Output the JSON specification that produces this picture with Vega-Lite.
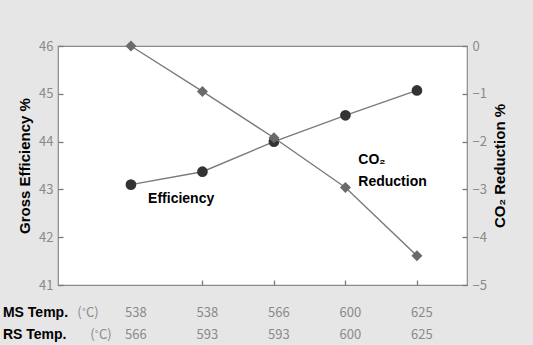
{
  "$schema": "https://vega.github.io/schema/vega-lite/v6.json",
  "width": 409,
  "height": 239,
  "autosize": {"type": "none"},
  "padding": {"left": 58, "top": 46, "right": 66, "bottom": 60},
  "background": "#e6e6e6",
  "config": {
    "view": {"fill": "white", "stroke": "#8a8a8a", "strokeWidth": 1.2},
    "axis": {
      "domain": false,
      "grid": false,
      "zindex": 1,
      "ticks": true,
      "tickColor": "#7a7a7a",
      "tickWidth": 1.3,
      "tickSize": 5,
      "offset": -5,
      "labelPadding": 5,
      "labelColor": "#8a8a8a",
      "labelFont": "Noto Sans CJK JP",
      "labelFontSize": 13,
      "titleFont": "Liberation Sans",
      "titleFontSize": 15,
      "titleFontWeight": "bold",
      "titleColor": "#000000"
    }
  },
  "datasets": {
    "temps": [
      {"i": 1, "ms": 538, "rs": 566, "eff": 43.1, "co2": 0.0},
      {"i": 2, "ms": 538, "rs": 593, "eff": 43.37, "co2": -0.95},
      {"i": 3, "ms": 566, "rs": 593, "eff": 44.0, "co2": -1.92},
      {"i": 4, "ms": 600, "rs": 600, "eff": 44.55, "co2": -2.96},
      {"i": 5, "ms": 625, "rs": 625, "eff": 45.07, "co2": -4.39}
    ],
    "notes": [
      {"t": "Efficiency", "x": 1.24, "y": 42.8},
      {"t": "CO₂", "x": 4.18, "y": 43.61},
      {"t": "Reduction", "x": 4.18, "y": 43.15},
      {"t": "MS Temp.", "x": -0.79, "y": 40.414},
      {"t": "RS Temp.", "x": -0.79, "y": 39.95}
    ],
    "units": [
      {"t": "(˚C)", "x": 0.25, "y": 40.414},
      {"t": "(˚C)", "x": 0.43, "y": 39.95}
    ]
  },
  "layer": [
    {
      "layer": [
        {
          "data": {"name": "temps"},
          "mark": {"type": "line", "color": "#7a7a7a", "strokeWidth": 1.4},
          "encoding": {
            "x": {"field": "i", "type": "quantitative", "scale": {"domain": [-0.02, 5.7], "nice": false, "zero": false},
              "axis": {"values": [2, 3, 4, 5], "labels": false, "title": null}},
            "y": {"field": "eff", "type": "quantitative", "scale": {"domain": [41, 46], "nice": false, "zero": false},
              "axis": {"orient": "left", "values": [41, 42, 43, 44, 45, 46], "title": "Gross Efficiency %", "titlePadding": 6}}
          }
        },
        {
          "data": {"name": "temps"},
          "mark": {"type": "point", "shape": "circle", "filled": true, "color": "#333333", "opacity": 1, "size": 115},
          "encoding": {
            "x": {"field": "i", "type": "quantitative"},
            "y": {"field": "eff", "type": "quantitative"}
          }
        },
        {
          "data": {"name": "notes"},
          "mark": {"type": "text", "align": "left", "baseline": "middle", "font": "Liberation Sans", "fontWeight": "bold", "fontSize": 14, "color": "#000000"},
          "encoding": {
            "x": {"field": "x", "type": "quantitative"},
            "y": {"field": "y", "type": "quantitative"},
            "text": {"field": "t"}
          }
        },
        {
          "data": {"name": "units"},
          "mark": {"type": "text", "align": "left", "baseline": "middle", "font": "Noto Sans CJK JP", "fontSize": 13, "color": "#8a8a8a"},
          "encoding": {
            "x": {"field": "x", "type": "quantitative"},
            "y": {"field": "y", "type": "quantitative"},
            "text": {"field": "t"}
          }
        },
        {
          "data": {"name": "temps"},
          "mark": {"type": "text", "align": "center", "baseline": "middle", "dx": 5, "font": "Noto Sans CJK JP", "fontSize": 13, "color": "#8a8a8a"},
          "encoding": {
            "x": {"field": "i", "type": "quantitative"},
            "y": {"datum": 40.414},
            "text": {"field": "ms"}
          }
        },
        {
          "data": {"name": "temps"},
          "mark": {"type": "text", "align": "center", "baseline": "middle", "dx": 5, "font": "Noto Sans CJK JP", "fontSize": 13, "color": "#8a8a8a"},
          "encoding": {
            "x": {"field": "i", "type": "quantitative"},
            "y": {"datum": 39.95},
            "text": {"field": "rs"}
          }
        }
      ]
    },
    {
      "layer": [
        {
          "data": {"name": "temps"},
          "mark": {"type": "line", "color": "#7a7a7a", "strokeWidth": 1.4},
          "encoding": {
            "x": {"field": "i", "type": "quantitative"},
            "y": {"field": "co2", "type": "quantitative", "scale": {"domain": [-5, 0], "nice": false, "zero": false},
              "axis": {"orient": "right", "values": [-5, -4, -3, -2, -1, 0], "title": "CO₂ Reduction %", "titleAngle": 270, "titleBaseline": "top", "titlePadding": 6}}
          }
        },
        {
          "data": {"name": "temps"},
          "mark": {"type": "point", "shape": "diamond", "filled": true, "color": "#6a6a6a", "opacity": 1, "size": 120},
          "encoding": {
            "x": {"field": "i", "type": "quantitative"},
            "y": {"field": "co2", "type": "quantitative"}
          }
        }
      ]
    }
  ],
  "resolve": {"scale": {"y": "independent"}}
}
